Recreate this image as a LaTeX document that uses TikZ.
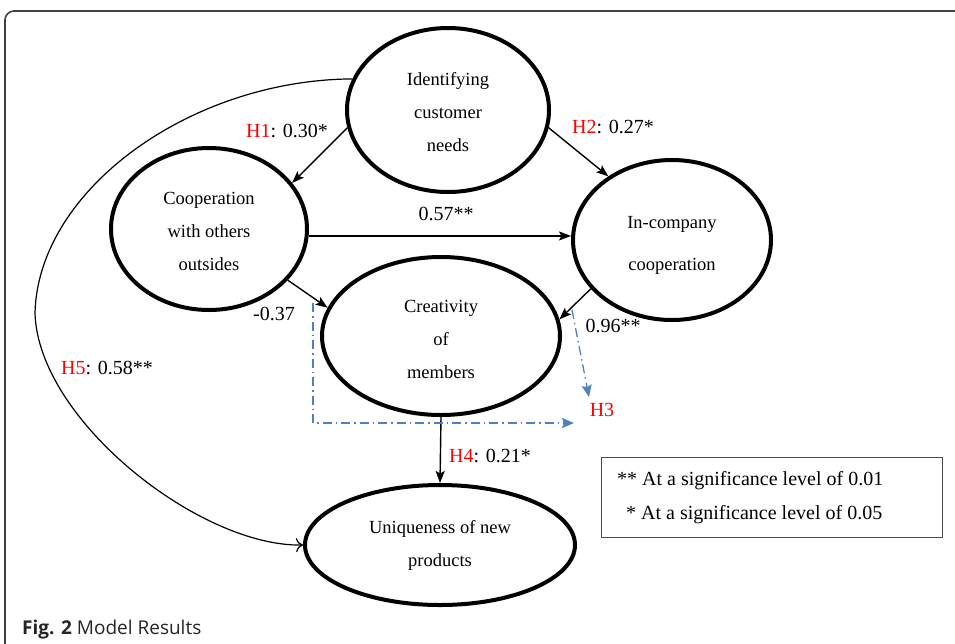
\documentclass[tikz,border=0pt]{standalone}
\usepackage{fontspec}
\setmainfont{Liberation Serif}
\newfontfamily\capfont{Open Sans}
\usetikzlibrary{shapes.geometric,arrows.meta}
\definecolor{ddblue}{RGB}{79,129,189}
\begin{document}
\begin{tikzpicture}[x=1pt,y=-1pt,
  ell/.style={ellipse,draw,line width=4pt,inner sep=0pt},
  etxt/.style={inner sep=0pt,align=center,font=\fontsize{18.5}{33}\selectfont},
  arr/.style={line width=1.4pt,-{Stealth[length=12pt,width=9pt,inset=2.5pt]}},
  lab/.style={font=\fontsize{20}{22}\selectfont,inner sep=0pt},
  hyp/.style={text=red},
  dd/.style={draw=ddblue,line width=1.3pt,dash pattern=on 9pt off 4pt on 1.5pt off 4pt,-{Stealth[length=12pt,width=10pt,inset=2pt]}}
]
\useasboundingbox (0,0) rectangle (955,643);
\clip (0,0) rectangle (955,643);
\fill[white] (0,0) rectangle (955,643);
% frame
\draw[line width=1.6pt, draw=black!75, rounded corners=9pt] (5,11) rectangle (990,690);
\node[anchor=base west, inner sep=0pt, font=\capfont\fontsize{19}{22}\selectfont, text=black!85] (cap) at (22,634) {\textbf{Fig. 2} Model Results};

% ellipses
\node[ell, minimum width=202pt, minimum height=164pt] (idn) at (448,110) {};
\node[ell, minimum width=196pt, minimum height=162pt] (coop) at (209,229) {};
\node[ell, minimum width=198pt, minimum height=160pt] (inc) at (672,240) {};
\node[ell, minimum width=238pt, minimum height=158pt] (cre) at (441,336) {};
\node[ell, minimum width=270pt, minimum height=120pt] (uni) at (440,545) {};

% ellipse texts
\node[etxt] (idnT) at (448,112) {Identifying\\customer\\needs};
\node[etxt] (coopT) at (209,231) {Cooperation\\with others\\outsides};
\node[etxt] (incT) at (672,245) {In-company\\[9pt]cooperation};
\node[etxt] (creT) at (441,339) {Creativity\\of\\members};
\node[etxt] (uniT) at (440,545) {Uniqueness of new\\products};

% arrows
\draw[arr] (idn.190.6) -- (coop.29.4);
\draw[arr] (idn.350) -- (inc.135.5);
\draw[arr] (coop.-4) -- (coop.-4 -| inc.west);
\draw[arr] (coop.-33.2) -- (cre.166.2);
\draw[arr] (inc.211.3) -- (cre.8.6);
\draw[arr] (cre.south) -- (uni.north);
\coordinate (h5l) at (35,313);
\draw[line width=1.2pt,-{To[length=7pt,width=14pt]}] (idn.162.7) .. controls (190,80) and (38,190) .. (h5l) .. controls (38,420) and (200,547) .. (uni.west);

% dash-dot H3
\coordinate (d1) at (313,303);
\coordinate (d2) at (313,423);
\coordinate (d3) at (574,423);
\coordinate (e1) at (572,310);
\coordinate (e2) at (589,397);
\draw[dd] (d1) -- (d2) -- (d3);
\draw[dd] (e1) -- (e2);

% labels
\node[lab] (l1) at (287,131) {\textcolor{red}{H1}: 0.30*};
\node[lab] (l2) at (613,127) {\textcolor{red}{H2}: 0.27*};
\node[lab] (l3) at (446,214) {0.57**};
\node[lab] (l4) at (274,314) {-0.37};
\node[lab] (l5) at (613,326) {0.96**};
\node[lab] (l6) at (107,368) {\textcolor{red}{H5}: 0.58**};
\node[lab] (l7) at (490,456) {\textcolor{red}{H4}: 0.21*};
\node[lab, hyp] (l8) at (602,410) {H3};

% legend
\node[draw=black!70, line width=1pt, minimum width=341pt, minimum height=80pt, inner sep=0pt] (leg) at (771.5,497) {};
\node[lab, anchor=west] (g1) at (617,481) {** At a significance level of 0.01};
\node[lab, anchor=west] (g2) at (626,515) {* At a significance level of 0.05};
\end{tikzpicture}
\end{document}
